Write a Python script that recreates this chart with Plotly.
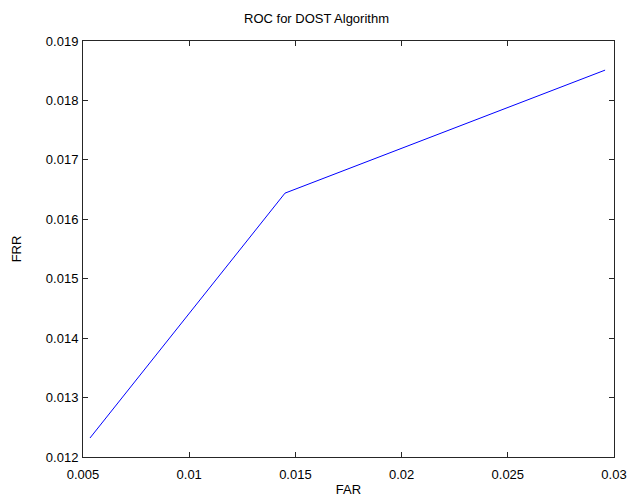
import plotly.graph_objects as go

far = [0.00533, 0.01451, 0.02958]
frr = [0.01232, 0.01644, 0.01851]
x_ticks = [0.005, 0.01, 0.015, 0.02, 0.025, 0.03]
x_tick_labels = ["0.005", "0.01", "0.015", "0.02", "0.025", "0.03"]
y_ticks = [0.012, 0.013, 0.014, 0.015, 0.016, 0.017, 0.018, 0.019]
y_tick_labels = ["0.012", "0.013", "0.014", "0.015", "0.016", "0.017", "0.018", "0.019"]

fig = go.Figure()
fig.add_trace(go.Scatter(x=far, y=frr, mode="lines", line=dict(color="#0000ff", width=1), showlegend=False))

font = dict(family="Liberation Sans, Arial, sans-serif", size=13, color="#000000")
axis_common = dict(showgrid=False, zeroline=False, showline=True, linecolor="#262626", linewidth=1,
                   mirror="ticks", ticks="inside", ticklen=5, tickcolor="#262626", tickfont=font,
                   automargin=False)
fig.update_layout(
    width=633, height=500,
    margin=dict(l=83, r=19, t=41, b=43),
    paper_bgcolor="white", plot_bgcolor="white",
    title=dict(text="ROC for DOST Algorithm", x=0.5, xanchor="center", y=1 - 18 / 500, yanchor="middle",
               font=dict(family="Liberation Sans, Arial, sans-serif", size=13, color="#000000")),
    xaxis=dict(range=[0.005, 0.03], tickvals=x_ticks, ticktext=x_tick_labels, ticklabelstandoff=5,
               title=dict(text="FAR", font=font, standoff=4), **axis_common),
    yaxis=dict(range=[0.012, 0.019], tickvals=y_ticks, ticktext=y_tick_labels, ticklabelstandoff=1,
               title=dict(text="FRR", font=font, standoff=21), **axis_common),
)
fig.write_html("out.html")
